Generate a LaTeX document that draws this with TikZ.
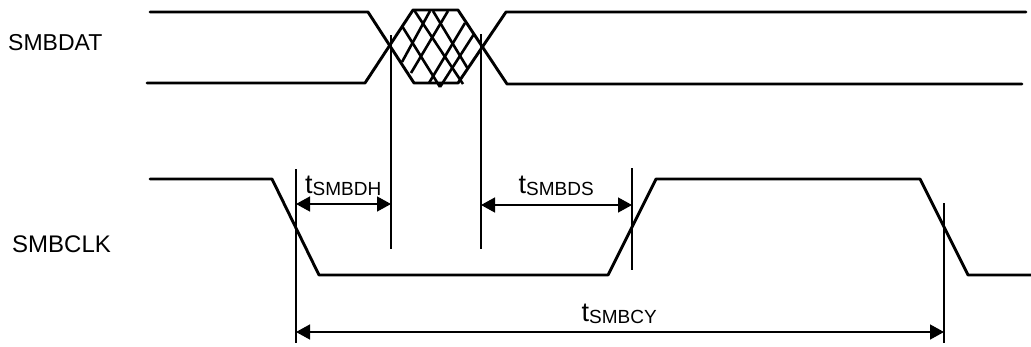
\documentclass[tikz,border=0pt]{standalone}
\usepackage{fontspec}
\setmainfont{Liberation Sans}
\usetikzlibrary{arrows.meta}
\tikzset{
  wave/.style={line width=2.9pt,line cap=round,line join=round,black},
  hatch/.style={line width=2.6pt,line cap=butt,black},
  tick/.style={line width=1.4pt,black},
  dim/.style={line width=1.4pt,black,{Triangle[length=14pt,width=15pt]}-{Triangle[length=14pt,width=15pt]},shorten >=0pt,shorten <=0pt},
  sig/.style={inner sep=0pt,anchor=base west,font=\fontsize{23}{24}\selectfont},
  tlabel/.style={inner sep=0pt,anchor=base west,font=\fontsize{27}{28}\selectfont}
}
\newcommand{\tsub}[1]{t\raisebox{-2pt}{\fontsize{19}{20}\selectfont #1}}
\begin{document}
\begin{tikzpicture}[x=1pt,y=-1pt]
\useasboundingbox (0,0) rectangle (1031,346);
% signal names
\node[sig] (sd) at (8,50) {SMBDAT};
\node[sig,font=\fontsize{24}{25}\selectfont] (sc) at (12,252) {SMBCLK};
% SMBDAT waveform
\draw[wave] (150,12) -- (368,12) -- (414,83) -- (458,83) -- (506,12) -- (1026,12);
\draw[wave] (147,83) -- (365,83) -- (413,10) -- (458,10) -- (507,84) -- (1022,84);
% hatching
\draw[hatch] (402,26) -- (440,87);
\draw[hatch] (414,10) -- (463,84);
\draw[hatch] (433,11) -- (468,69);
\draw[hatch] (430,11) -- (402,62);
\draw[hatch] (448,11) -- (411,73);
\draw[hatch] (465,23) -- (429,83);
\draw[hatch] (474,34) -- (440,87);
% SMBCLK waveform
\draw[wave] (150,179) -- (272,179) -- (319,275) -- (608,275) -- (656,179) -- (920,179) -- (968,275) -- (1031,275);
% reference ticks
\coordinate (a1) at (296,169); \coordinate (a2) at (296,343);
\coordinate (b1) at (391,35);  \coordinate (b2) at (391,249);
\coordinate (c1) at (481,34);  \coordinate (c2) at (481,249);
\coordinate (d1) at (632,168); \coordinate (d2) at (632,270);
\coordinate (e1) at (944,203); \coordinate (e2) at (944,343);
\draw[tick] (a1) -- (a2);
\draw[tick] (b1) -- (b2);
\draw[tick] (c1) -- (c2);
\draw[tick] (d1) -- (d2);
\draw[tick] (e1) -- (e2);
% dimension arrows
\coordinate (h1) at (296,204); \coordinate (h2) at (391,204);
\coordinate (s1) at (481,205); \coordinate (s2) at (632,205);
\coordinate (y1) at (296,332); \coordinate (y2) at (944,332);
\draw[dim] (h1) -- (h2);
\draw[dim] (s1) -- (s2);
\draw[dim] (y1) -- (y2);
% labels
\node[tlabel] (lh) at (305,193) {\tsub{SMBDH}};
\node[tlabel] (ls) at (518.5,193) {\tsub{SMBDS}};
\node[tlabel] (ly) at (581.5,321) {\tsub{SMBCY}};
\end{tikzpicture}
\end{document}
